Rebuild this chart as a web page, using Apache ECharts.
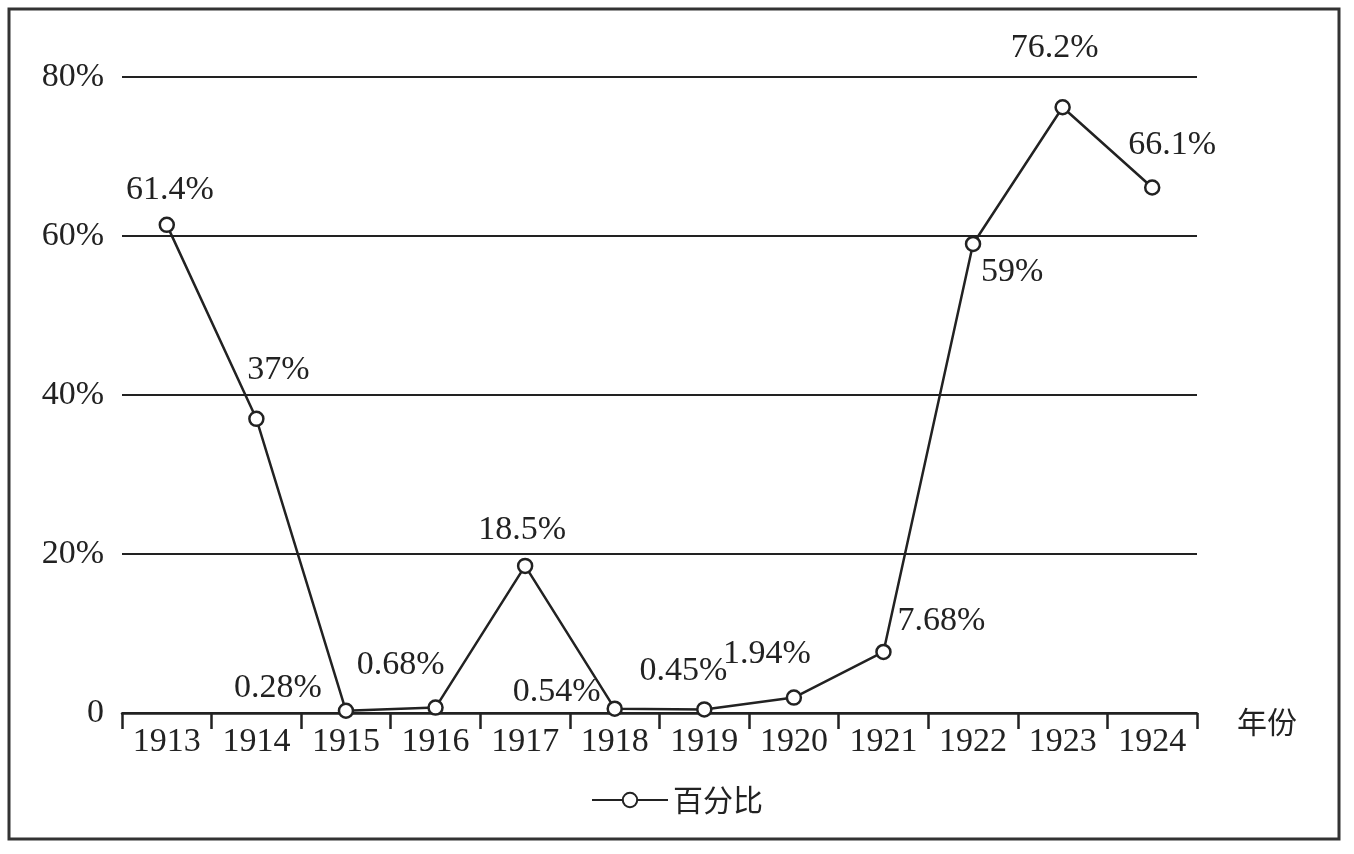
<!DOCTYPE html>
<html>
<head>
<meta charset="utf-8">
<script src="https://cdn.jsdelivr.net/npm/echarts@6/dist/echarts.min.js"></script>
<style>
  html, body { margin: 0; padding: 0; background: #fff; }
  #main { width: 1354px; height: 854px; }
</style>
</head>
<body>
<div id="main"></div>
<script>
// data
var years = ['1913', '1914', '1915', '1916', '1917', '1918', '1919', '1920', '1921', '1922', '1923', '1924'];
var percents = [61.4, 37, 0.28, 0.68, 18.5, 0.54, 0.45, 1.94, 7.68, 59, 76.2, 66.1];
var yTicks = [0, 20, 40, 60, 80];
var seriesName = '百分比';

// where each value label sits, relative to its marker
var labelOffsets = [
    [3, -35], [22, -49], [-68, -23], [-35, -43], [-3, -36], [-58, -17],
    [-21, -38], [-27, -43], [58, -31], [39, 28], [-8, -59], [20, -42]
];

var serif = '"Liberation Serif", "Times New Roman", serif';
var cjk = '"Noto Sans CJK SC", sans-serif';
var ink = '#222';

var myChart = echarts.init(document.getElementById('main'));

var points = percents.map(function (v, i) {
    return {
        value: v,
        label: { offset: labelOffsets[i] }
    };
});

option = {
    animation: false,
    backgroundColor: '#fff',
    graphic: [{
        type: 'rect',
        shape: { x: 9, y: 9, width: 1330, height: 830 },
        style: { fill: 'none', stroke: '#333', lineWidth: 3 },
        silent: true
    }],
    grid: { left: 122, right: 157, top: 77, bottom: 141 },
    legend: {
        bottom: 34,
        left: 'center',
        data: [seriesName],
        itemWidth: 76,
        itemHeight: 18,
        itemGap: 14,
        textStyle: { fontFamily: cjk, fontSize: 30, color: ink }
    },
    xAxis: {
        type: 'category',
        data: years,
        boundaryGap: true,
        name: '年份',
        nameLocation: 'end',
        nameGap: 40,
        nameTextStyle: { fontFamily: cjk, fontSize: 30, color: ink, verticalAlign: 'top', lineHeight: 18 },
        axisLine: { lineStyle: { color: ink, width: 2.5 } },
        axisTick: { show: true, inside: false, length: 16, alignWithLabel: false, lineStyle: { color: ink, width: 2.5 } },
        axisLabel: { fontFamily: serif, fontSize: 34, color: ink, margin: 12, interval: 0 }
    },
    yAxis: {
        type: 'value',
        min: yTicks[0],
        max: yTicks[yTicks.length - 1],
        interval: yTicks[1] - yTicks[0],
        axisLine: { show: false },
        axisTick: { show: false },
        axisLabel: {
            fontFamily: serif, fontSize: 34, color: ink, margin: 18,
            formatter: function (v) { return v === 0 ? '0' : v + '%'; }
        },
        splitLine: { lineStyle: { color: ink, width: 2 } }
    },
    series: [{
        name: seriesName,
        type: 'line',
        data: points,
        symbol: 'circle',
        symbolSize: 14,
        itemStyle: { color: '#fff', borderColor: ink, borderWidth: 2.5 },
        lineStyle: { color: ink, width: 2.5 },
        label: {
            show: true,
            position: 'inside',
            fontFamily: serif,
            fontSize: 34,
            color: ink,
            formatter: function (p) { return p.value + '%'; }
        },
        z: 3
    }]
};

myChart.setOption(option);
</script>
</body>
</html>
